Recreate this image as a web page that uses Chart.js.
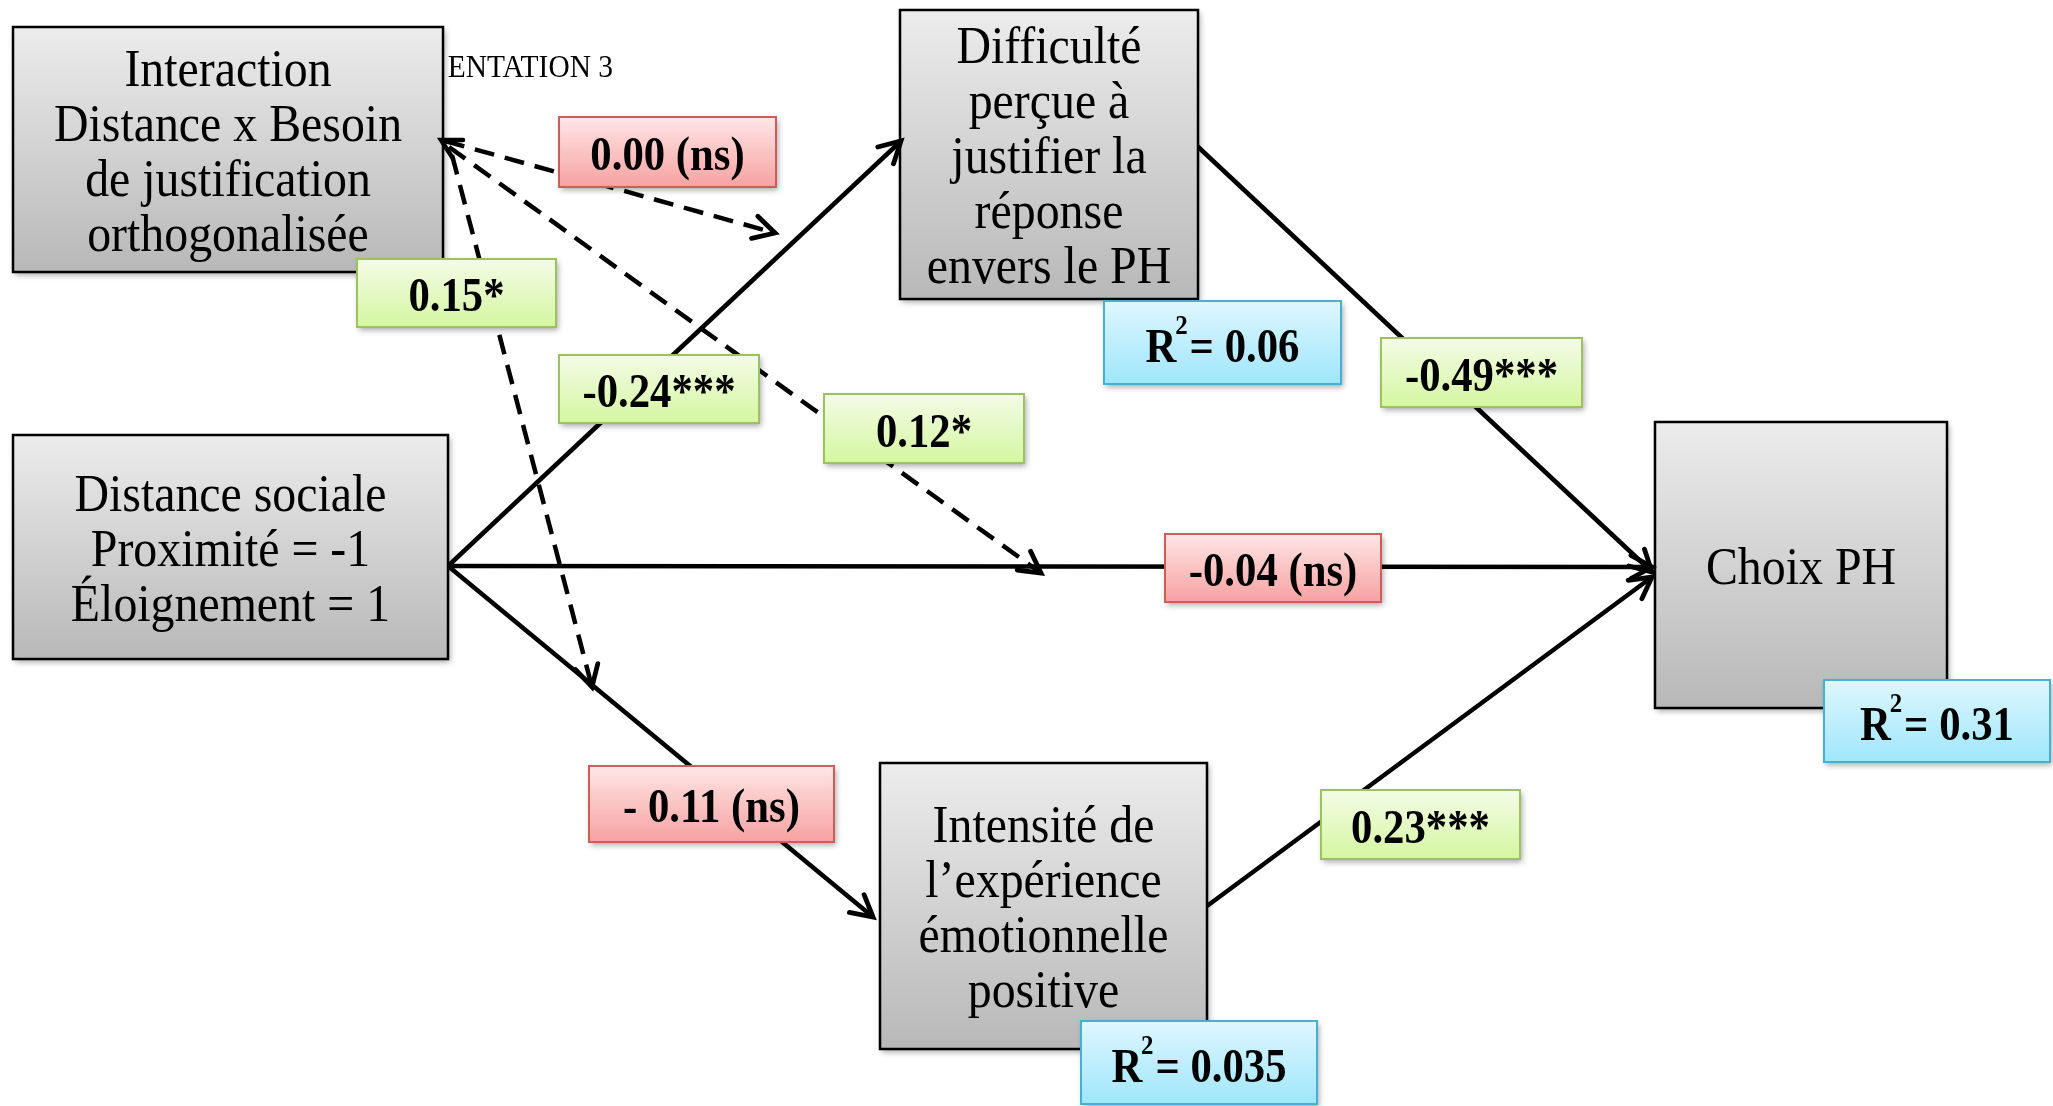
<!DOCTYPE html>
<html><head><meta charset="utf-8">
<script src="https://cdn.jsdelivr.net/npm/chart.js@4.4.0/dist/chart.umd.min.js"></script>
<style>html,body{margin:0;padding:0;background:#fff;overflow:hidden}#wrap{width:2053px;height:1106px;position:relative}</style>
</head><body><div id="wrap"><canvas id="c"></canvas></div>
<script>
// ---------- values ----------
const nodeIds = ['interaction', 'distance', 'difficulte', 'intensite', 'choix'];
const nodeTexts = [
  ['Interaction', 'Distance x Besoin', 'de justification', 'orthogonalisée'],
  ['Distance sociale', 'Proximité = -1', 'Éloignement = 1'],
  ['Difficulté', 'perçue à', 'justifier la', 'réponse', 'envers le PH'],
  ['Intensité de', 'l’expérience', 'émotionnelle', 'positive'],
  ['Choix PH']
];
const pathCoef = ['0.00', '0.15', '-0.24', '0.12', '-0.49', '-0.04', '- 0.11', '0.23'];
const pathSig = ['(ns)', '*', '***', '*', '***', '(ns)', '(ns)', '***'];
const pathModeration = [true, true, false, true, false, false, false, false];
const r2Nodes = ['difficulte', 'choix', 'intensite'];
const r2Values = ['0.06', '0.31', '0.035'];
const headerText = 'ENTATION 3';

// ---------- layout (data units of the hidden linear axes) ----------
const nodeBoxes = [
  [13, 27, 443, 272],
  [13, 435, 448, 659],
  [900, 10, 1198, 299],
  [880, 763, 1207, 1049],
  [1655, 422, 1947, 708]
];
const pathStart = [[445, 141], [452, 155], [448, 566], [449, 147], [1195, 144], [448, 566], [448, 566], [1207, 906]];
const pathEnd = [[775, 233], [592, 687], [901, 141], [1041, 573], [1652, 572], [1652, 567], [873, 917], [1652, 577]];
const labelBoxes = [
  [559, 117, 776, 187],
  [357, 259, 556, 327],
  [559, 355, 759, 423],
  [824, 394, 1024, 463],
  [1381, 338, 1582, 407],
  [1165, 534, 1381, 602],
  [589, 766, 834, 842],
  [1321, 790, 1520, 859]
];
const r2Boxes = [
  [1104, 301, 1341, 384],
  [1824, 680, 2050, 762],
  [1081, 1021, 1317, 1104]
];
const headerPos = [613, 69];
const sourceArrow = [441, 140, 478, 160];

const SERIF = '"Liberation Serif", "Times New Roman", serif';

function px(chart, x, y) {
  return [chart.scales.x.getPixelForValue(x), chart.scales.y.getPixelForValue(y)];
}
function rectPx(chart, b) {
  const [x0, y0] = px(chart, b[0], b[1]);
  const [x1, y1] = px(chart, b[2], b[3]);
  return [Math.min(x0, x1), Math.min(y0, y1), Math.abs(x1 - x0), Math.abs(y1 - y0)];
}
function gradBox(ctx, r, top, bottom, border, bw, shadow) {
  const [x, y, w, h] = r;
  ctx.save();
  const g = ctx.createLinearGradient(0, y, 0, y + h);
  g.addColorStop(0, top); g.addColorStop(1, bottom);
  if (shadow) {
    ctx.shadowColor = 'rgba(0,0,0,0.35)';
    ctx.shadowBlur = 6; ctx.shadowOffsetX = 2; ctx.shadowOffsetY = 3;
  }
  ctx.fillStyle = g;
  ctx.fillRect(x, y, w, h);
  ctx.restore();
  ctx.save();
  ctx.strokeStyle = border; ctx.lineWidth = bw;
  ctx.strokeRect(x, y, w, h);
  ctx.restore();
}
function squeezeText(ctx, text, cx, cy, font, sx, align) {
  ctx.save();
  ctx.font = font;
  ctx.fillStyle = '#000';
  ctx.textAlign = align || 'center';
  ctx.textBaseline = 'middle';
  ctx.translate(cx, cy);
  ctx.scale(sx, 1);
  ctx.fillText(text, 0, 0);
  ctx.restore();
}
function chevron(ctx, tx, ty, fx, fy, len, ang, lw) {
  const a = Math.atan2(ty - fy, tx - fx);
  ctx.save();
  ctx.strokeStyle = '#000'; ctx.lineWidth = lw; ctx.lineCap = 'round'; ctx.lineJoin = 'miter';
  ctx.setLineDash([]);
  ctx.beginPath();
  ctx.moveTo(tx - len * Math.cos(a - ang), ty - len * Math.sin(a - ang));
  ctx.lineTo(tx, ty);
  ctx.lineTo(tx - len * Math.cos(a + ang), ty - len * Math.sin(a + ang));
  ctx.stroke();
  ctx.restore();
}

const diagramPlugin = {
  id: 'diagram',
  beforeDatasetsDraw(chart) {
    const ctx = chart.ctx;
    const [hx, hy] = px(chart, headerPos[0], headerPos[1]);
    squeezeText(ctx, headerText, hx, hy, '31px ' + SERIF, 0.95, 'right');
  },
  afterDatasetsDraw(chart) {
    const ctx = chart.ctx;
    // nodes
    nodeIds.forEach((id, i) => {
      const r = rectPx(chart, nodeBoxes[i]);
      gradBox(ctx, r, '#ececec', '#b8b8b8', '#000', 2.5, true);
      const lines = nodeTexts[i];
      const lh = 55;
      const cx = r[0] + r[2] / 2, cy = r[1] + r[3] / 2;
      lines.forEach((t, k) => {
        squeezeText(ctx, t, cx, cy + (k - (lines.length - 1) / 2) * lh + 5, '52px ' + SERIF, 0.92);
      });
    });
    // arrowheads
    pathStart.forEach((s, i) => {
      const [sx, sy] = px(chart, s[0], s[1]);
      const [ex, ey] = px(chart, pathEnd[i][0], pathEnd[i][1]);
      chevron(ctx, ex, ey, sx, sy, 24, 0.5, 4.8);
    });
    {
      const [tx, ty] = px(chart, sourceArrow[0], sourceArrow[1]);
      const [fx, fy] = px(chart, sourceArrow[2], sourceArrow[3]);
      chevron(ctx, tx, ty, fx, fy, 22, 0.5, 4.5);
    }
    // coefficient labels
    pathCoef.forEach((c, i) => {
      const r = rectPx(chart, labelBoxes[i]);
      const ns = pathSig[i] === '(ns)';
      if (ns) gradBox(ctx, r, '#ffe6e6', '#f7a1a1', '#cf5b5b', 2, true);
      else gradBox(ctx, r, '#f3fce7', '#d5f6a0', '#9cc25e', 2, true);
      const txt = c + (ns ? ' ' : '') + pathSig[i];
      squeezeText(ctx, txt, r[0] + r[2] / 2, r[1] + r[3] / 2 + 6, 'bold 48px ' + SERIF, 0.89);
    });
    // R² labels
    r2Values.forEach((v, i) => {
      const r = rectPx(chart, r2Boxes[i]);
      gradBox(ctx, r, '#def7ff', '#9fe6fb', '#49aed1', 2, true);
      const cx = r[0] + r[2] / 2, cy = r[1] + r[3] / 2 + 7;
      const sx = 0.89;
      ctx.save();
      ctx.font = 'bold 48px ' + SERIF;
      const wR = ctx.measureText('R').width * sx;
      const rest = ' = ' + v;
      const wRest = ctx.measureText(rest).width * sx;
      ctx.font = 'bold 28px ' + SERIF;
      const w2 = ctx.measureText('2').width * sx;
      ctx.restore();
      const total = wR + w2 * 0.2 + wRest;
      let x = cx - total / 2;
      squeezeText(ctx, 'R', x, cy, 'bold 48px ' + SERIF, sx, 'left');
      squeezeText(ctx, '2', x + wR - w2 * 0.1, cy - 23, 'bold 28px ' + SERIF, sx, 'left');
      squeezeText(ctx, rest, x + wR + w2 * 0.2, cy, 'bold 48px ' + SERIF, sx, 'left');
    });
  }
};

const datasets = pathStart.map((s, i) => ({
  data: [{ x: s[0], y: s[1] }, { x: pathEnd[i][0], y: pathEnd[i][1] }],
  showLine: true,
  borderColor: '#000',
  borderWidth: pathModeration[i] ? 4.5 : 4.5,
  borderDash: pathModeration[i] ? [20, 11] : [],
  borderCapStyle: 'butt',
  pointRadius: 0,
  fill: false,
  clip: false
}));

new Chart(document.getElementById('c'), {
  type: 'scatter',
  data: { datasets },
  options: {
    responsive: true,
    maintainAspectRatio: false,
    animation: false,
    devicePixelRatio: 1,
    events: [],
    layout: { padding: 0 },
    plugins: { legend: { display: false }, tooltip: { enabled: false } },
    scales: {
      x: { type: 'linear', min: 0, max: 2053, display: false },
      y: { type: 'linear', min: 0, max: 1106, reverse: true, display: false }
    }
  },
  plugins: [diagramPlugin]
});
</script>
</body></html>
